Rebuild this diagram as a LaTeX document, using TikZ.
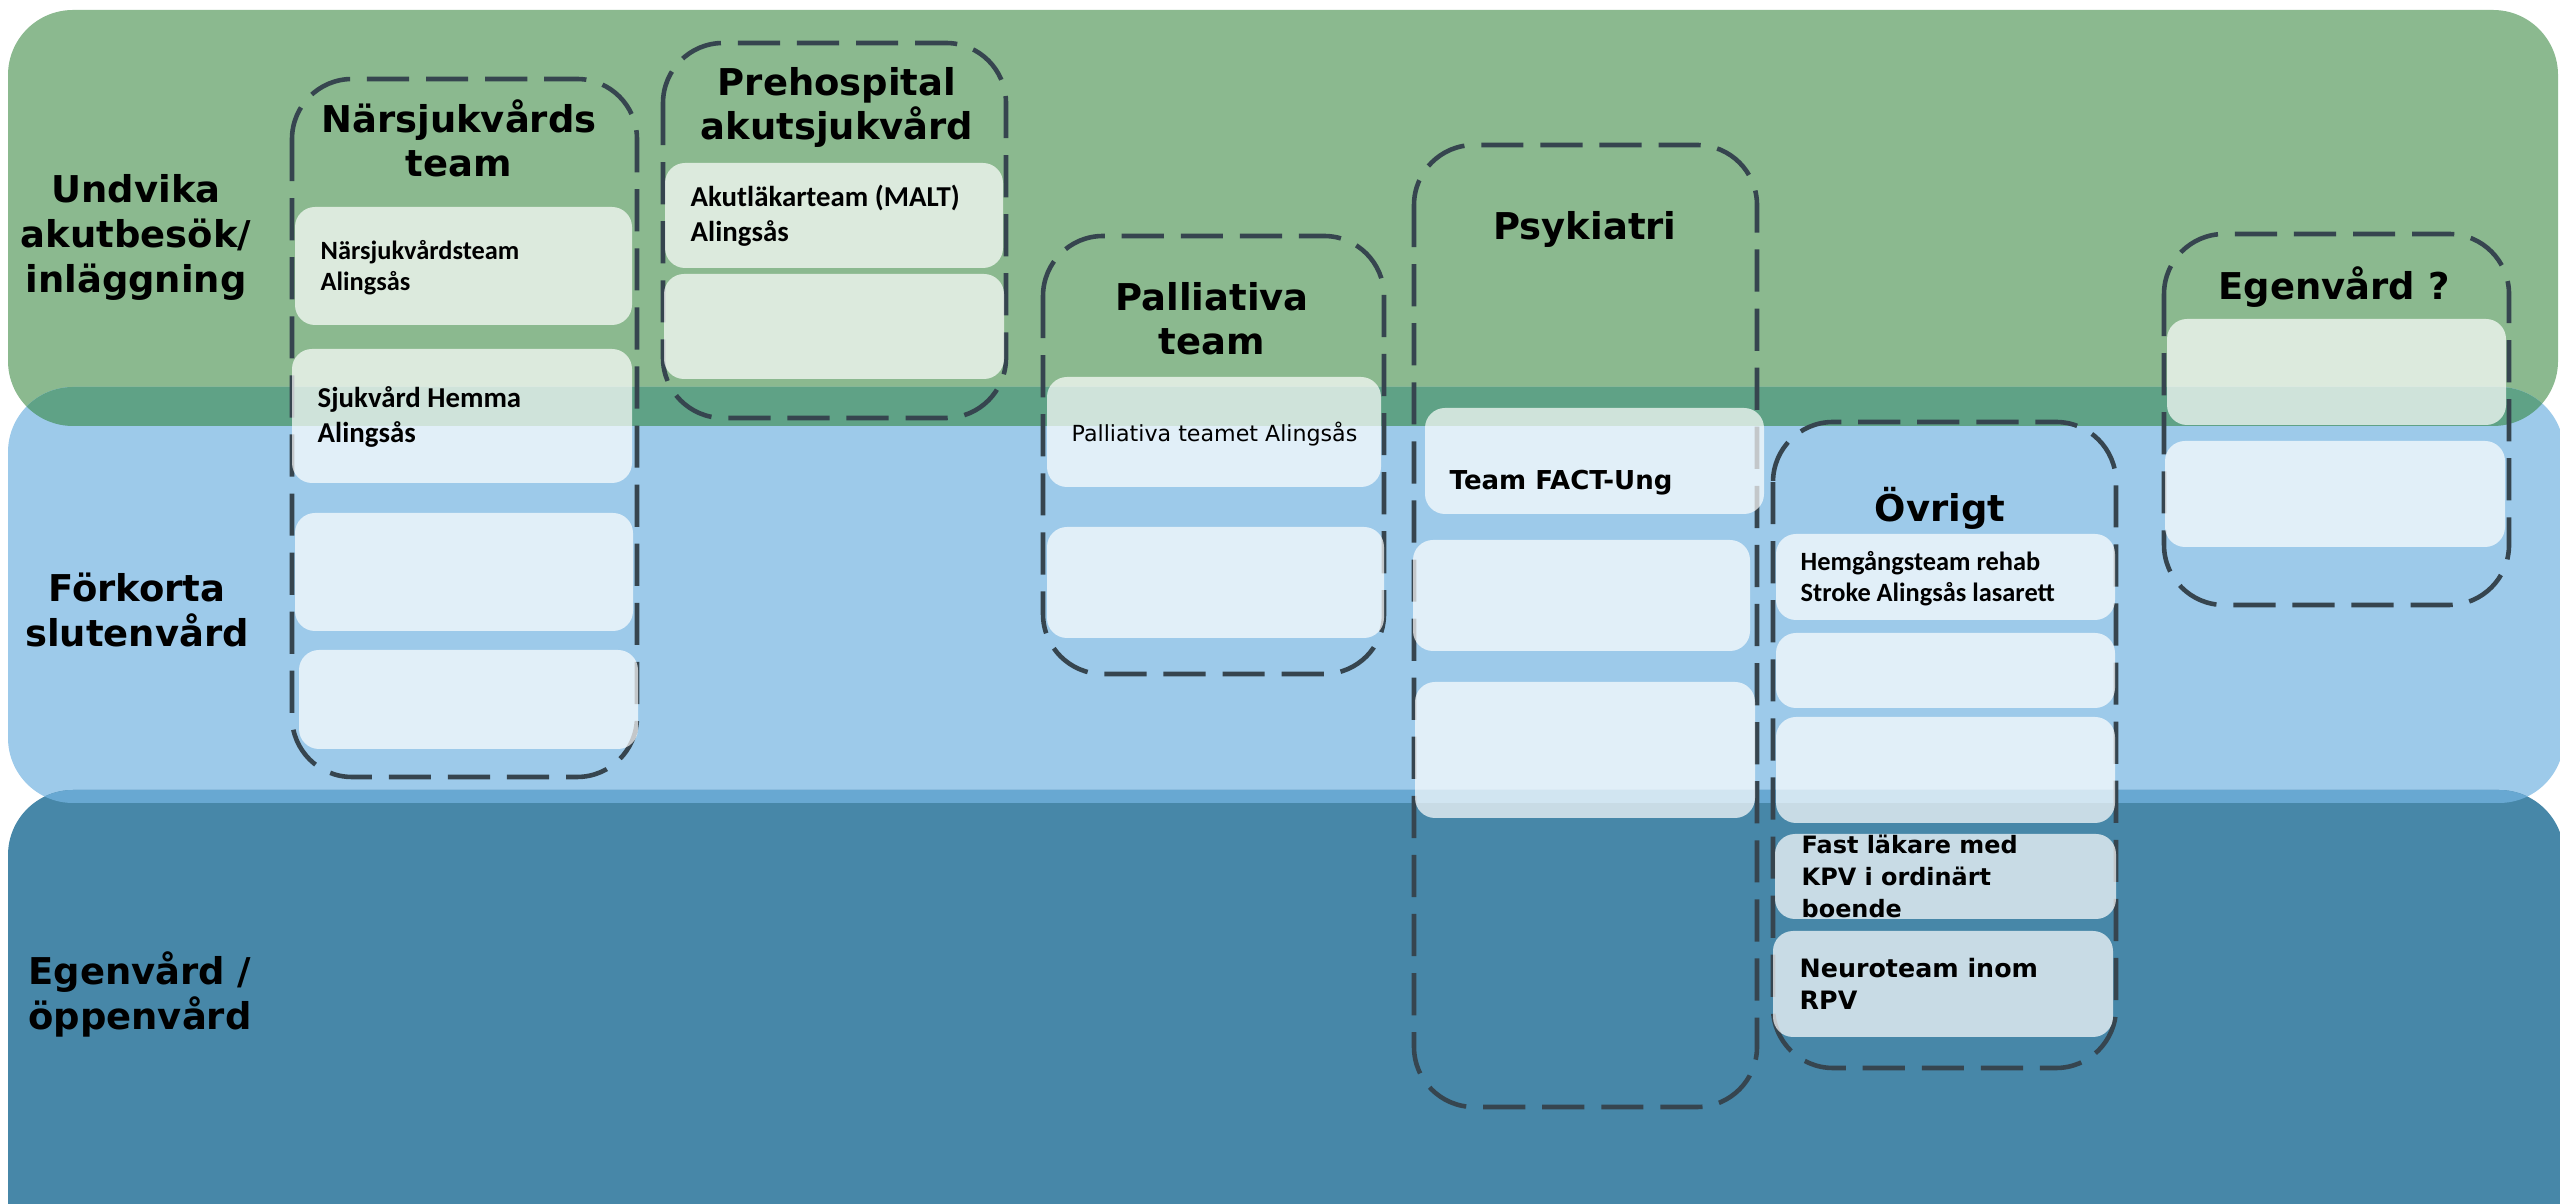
\documentclass[tikz,border=0pt]{standalone}
\usepackage{fontspec}
\setmainfont{DejaVu Sans}
\newfontfamily\calfont{Carlito}
\definecolor{bandgreen}{HTML}{8BB98F}
\definecolor{bandblue}{HTML}{9DCAEA}
\definecolor{banddark}{HTML}{4787A8}
\definecolor{mixgreen}{HTML}{5FA286}
\definecolor{mixblue}{HTML}{68A8D2}
\definecolor{framegray}{HTML}{36454F}
\begin{document}
\begin{tikzpicture}[x=0.01cm, y=-0.01cm,
    band/.style={rounded corners=0.65cm},
    teamframe/.style={draw=framegray, line width=1.3pt, dash pattern=on 12pt off 4.8pt, rounded corners=0.6cm},
    slot/.style={fill=white, fill opacity=0.7, rounded corners=0.2cm},
    bandlabel/.style={font=\bfseries\fontsize{10.5}{12.8}\selectfont, align=center, anchor=base, inner sep=0pt},
    teamtitle/.style={font=\bfseries\fontsize{10.5}{12.6}\selectfont, align=center, anchor=base, inner sep=0pt},
    slottext/.style={font=\calfont\bfseries\fontsize{7.5}{8.9}\selectfont, align=left, anchor=base west, inner sep=0pt},
    bigslottext/.style={font=\calfont\bfseries\fontsize{8.2}{10}\selectfont, align=left, anchor=base west, inner sep=0pt},
    sanstext/.style={font=\bfseries\fontsize{6.8}{9.1}\selectfont, align=left, anchor=base west, inner sep=0pt}]
    \useasboundingbox (0,0) rectangle (2560,1204);
    \clip (0,0) rectangle (2560,1204);

    % bands
    \fill[band, bandgreen] (8,10) rectangle (2558,426);
    \fill[band, bandblue] (8,387) rectangle (2564,803);
    \fill[band, banddark] (8,790) rectangle (2564,1280);
    \begin{scope}
        \clip[band] (8,10) rectangle (2558,426);
        \fill[band, mixgreen] (8,387) rectangle (2564,803);
    \end{scope}
    \begin{scope}
        \clip[band] (8,387) rectangle (2564,803);
        \fill[band, mixblue] (8,790) rectangle (2564,1280);
    \end{scope}

    % team frames
    \draw[teamframe] (292,79) rectangle (637,777);
    \draw[teamframe] (663,43) rectangle (1006,418);
    \draw[teamframe] (1043,236) rectangle (1384,674);
    \draw[teamframe] (1414,145) rectangle (1757,1107);
    \draw[teamframe] (1773,422) rectangle (2116,1068);
    \draw[teamframe] (2164,234) rectangle (2509,605);

    % slots
    \fill[slot] (295,207) rectangle (632,325);
    \fill[slot] (292,349) rectangle (632,483);
    \fill[slot] (295,513) rectangle (633,631);
    \fill[slot] (299,650) rectangle (638,749);
    \fill[slot] (665,163) rectangle (1003,268);
    \fill[slot] (664,274) rectangle (1004,379);
    \fill[slot] (1047,377) rectangle (1381,487);
    \fill[slot] (1047,527) rectangle (1384,638);
    \fill[slot] (1425,408) rectangle (1764,514);
    \fill[slot] (1413,540) rectangle (1750,651);
    \fill[slot] (1415,682) rectangle (1755,818);
    \fill[slot] (1776,534) rectangle (2115,620);
    \fill[slot] (1776,633) rectangle (2115,708);
    \fill[slot] (1776,717) rectangle (2115,823);
    \fill[slot] (1775,834) rectangle (2116,919);
    \fill[slot] (1773,931) rectangle (2113,1037);
    \fill[slot] (2167,319) rectangle (2506,425);
    \fill[slot] (2165,441) rectangle (2505,547);

    % band labels
    \node[bandlabel] (avoid) at (136,293) {Undvika\\akutbesök/\\inläggning};
    \node[bandlabel] (shorten) at (137,647) {Förkorta\\slutenvård};
    \node[bandlabel] (selfcare) at (140,1030) {Egenvård /\\öppenvård};

    % team titles
    \node[teamtitle] (nearcare) at (459,177) {Närsjukvårds\\team};
    \node[teamtitle] (prehosp) at (837,140) {Prehospital\\akutsjukvård};
    \node[teamtitle] (palliative) at (1212,355) {Palliativa\\team};
    \node[teamtitle] (psych) at (1585,240) {Psykiatri};
    \node[teamtitle] (other) at (1940,522) {Övrigt};
    \node[teamtitle] (selfq) at (2334,300) {Egenvård ?};

    % slot texts
    \node[slottext] (nearteam) at (320,291) {Närsjukvårdsteam\\Alingsås};
    \node[bigslottext] (homecare) at (317,443) {Sjukvård Hemma\\Alingsås};
    \node[bigslottext] (malt) at (690,242) {Akutläkarteam (MALT)\\Alingsås};
    \node[font=\fontsize{6.3}{7.6}\selectfont, anchor=base west, inner sep=0pt] (palteam) at (1071,442) {Palliativa teamet Alingsås};
    \node[font=\bfseries\fontsize{7.4}{8.9}\selectfont, anchor=base west, inner sep=0pt] (fact) at (1449,490) {Team FACT-Ung};
    \node[slottext] (stroke) at (1800,602) {Hemgångsteam rehab\\Stroke Alingsås lasarett};
    \node[sanstext] (kpv) at (1801,918) {Fast läkare med\\KPV i ordinärt\\boende};
    \node[sanstext, font=\bfseries\fontsize{7.2}{9.1}\selectfont] (neuro) at (1799,1010) {Neuroteam inom\\RPV};
\end{tikzpicture}
\end{document}
